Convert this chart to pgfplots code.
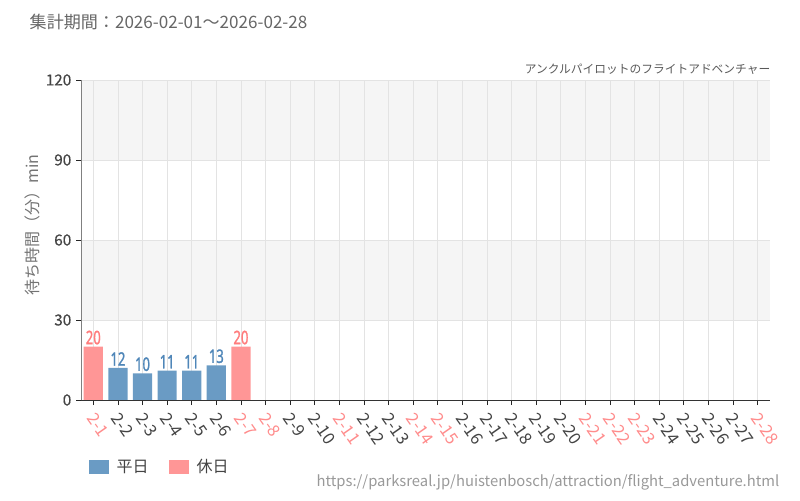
\documentclass[border=0pt]{standalone}
\usepackage{pgfplots}
\pgfplotsset{compat=1.18}
\usepackage{fontspec}
\setmainfont{Noto Sans CJK JP}
\newfontfamily\condfont[FakeStretch=0.7, FakeBold=1.2]{Noto Sans}
\newfontfamily\tickfont[FakeBold=0.4]{Noto Sans CJK JP}
\definecolor{wkday}{HTML}{6A9BC4}
\definecolor{holi}{HTML}{FF9696}
\definecolor{wklbl}{HTML}{4F86B8}
\definecolor{holilbl}{HTML}{FF7C7C}
\definecolor{txt}{HTML}{444444}
\definecolor{redtxt}{HTML}{FF8C8C}
\definecolor{band}{HTML}{F5F5F5}
\definecolor{gridc}{HTML}{E3E3E3}
\newcommand{\h}[1]{\textcolor{redtxt}{#1}}
\pgfkeys{/pgf/number format/assume math mode=true}

\begin{document}
\begin{tikzpicture}
\begin{scope}[x=0.75pt,y=0.75pt]
\path[use as bounding box] (0,0) rectangle (800,500);
% background bands (30-60 and 90-120)
\fill[band] (81,180) rectangle (770,260);
\fill[band] (81,340) rectangle (770,420);
\end{scope}
\begin{axis}[
    at={(60.75pt,75pt)}, anchor=south west,
    scale only axis, width=516.75pt, height=240pt,
    xmin=-0.5, xmax=27.5, ymin=0, ymax=120,
    ytick={0,30,60,90,120},
    xtick={0,...,27},
    xticklabels={\h{2-1},2-2,2-3,2-4,2-5,2-6,\h{2-7},\h{2-8},2-9,2-10,\h{2-11},2-12,2-13,\h{2-14},\h{2-15},2-16,2-17,2-18,2-19,2-20,\h{2-21},\h{2-22},\h{2-23},2-24,2-25,2-26,2-27,\h{2-28}},
    axis x line*=bottom, axis y line*=left, axis line style={-},
    x axis line style={color=black!80},
    y axis line style={color=black!50},
    tick align=outside, major tick length=3.75pt,
    tick style={black!85, line width=0.6pt},
    grid=major, grid style={gridc, line width=0.6pt},
    yticklabel style={font=\tickfont\fontsize{11.5}{11.5}\selectfont, text=txt},
    xticklabel style={font=\fontsize{12.5}{12.5}\selectfont, text=txt,
        rotate=-55, anchor=north west, inner sep=1pt, xshift=4pt},
    ybar, bar width=0.78, bar shift=0pt,
    legend style={at={(0.005,-0.209)}, anchor=west, draw=none, fill=none,
        legend columns=2, font=\fontsize{12}{12}\selectfont, text=txt,
        /tikz/every odd column/.append style={column sep=4pt},
        /tikz/every even column/.append style={column sep=13pt}},
    legend image code/.code={\fill[#1] (0pt,-5.25pt) rectangle (15pt,5.25pt);},
]
\addplot[fill=wkday, draw=none, nodes near coords,
    nodes near coords style={text=wklbl, inner sep=1.5pt,
        font=\condfont\fontsize{14}{14}\selectfont}]
    coordinates {(1,12) (2,10) (3,11) (4,11) (5,13)};
\addlegendentry{平日}
\addplot[fill=holi, draw=none, nodes near coords,
    nodes near coords style={text=holilbl, inner sep=1.5pt,
        font=\condfont\fontsize{14}{14}\selectfont}]
    coordinates {(0,20) (6,20)};
\addlegendentry{休日}
\end{axis}
\begin{scope}[x=0.75pt,y=0.75pt]
\node[anchor=west, text=black!60, font=\fontsize{12.8}{12.8}\selectfont] at (25,478) {集計期間：2026-02-01～2026-02-28};
\node[anchor=east, text=black!65, font=\fontsize{8.8}{8.8}\selectfont] at (775,431) {アンクルパイロットのフライトアドベンチャー};
\node[rotate=90, text=black!55, font=\fontsize{12}{12}\selectfont] at (32,275) {待ち時間（分）min};
\node[anchor=east, text=black!40, font=\fontsize{11.1}{11.1}\selectfont] at (784,18) {https://parksreal.jp/huistenbosch/attraction/flight\_adventure.html};
\end{scope}
\end{tikzpicture}
\end{document}
